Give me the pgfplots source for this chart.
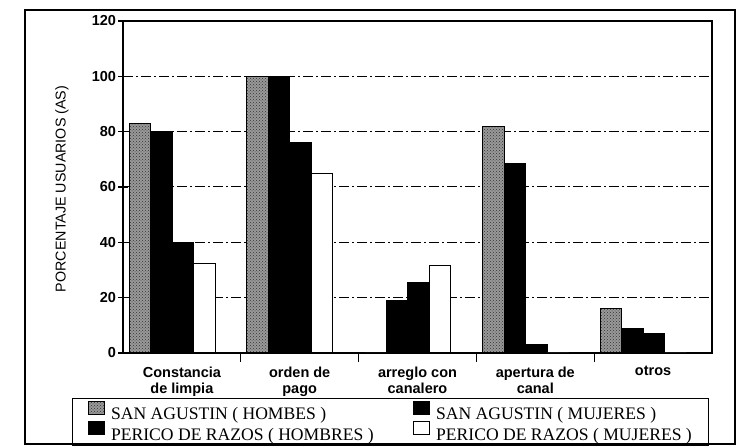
\documentclass[border=0pt]{standalone}
\usepackage{pgfplots}
\pgfplotsset{compat=1.18}
\usetikzlibrary{patterns}
\usepackage{fontspec}
\setmainfont{Liberation Sans}
\newfontfamily\seriffont{Liberation Serif}

\begin{document}
\begin{tikzpicture}
\begin{axis}[
  at={(0pt,0pt)}, anchor=south west,
  scale only axis, width=589pt, height=332pt,
  xmin=-0.5, xmax=4.5, ymin=0, ymax=120,
  axis line style={line width=1.6pt, black},
  tickpos=left, tick align=center,
  xtick={0,1,2,3,4},
  xticklabels={{Constancia\\de limpia},{orden de\\pago},{arreglo con\\canalero},{apertura de\\canal},{otros}},
  x tick label style={align=center, font=\fontsize{14.5}{16}\selectfont\bfseries, yshift=-1pt},
  major x tick style={draw=none},
  minor xtick={0.5,1.5,2.5,3.5},
  minor tick length=9pt,
  minor x tick style={line width=1.2pt, black},
  ytick={0,20,...,120},
  major tick length=9pt,
  major y tick style={line width=1.2pt, black},
  /pgf/number format/assume math mode=true,
  y tick label style={font=\fontsize{14.5}{14}\selectfont\bfseries, xshift=1pt},
  ymajorgrids,
  major grid style={line width=1pt, black, dash pattern=on 10pt off 3pt on 2pt off 3pt},
  ylabel={PORCENTAJE USUARIOS (AS)},
  every axis y label/.style={at={(axis description cs:-0.1036,0.494)}, rotate=90, anchor=center, font=\fontsize{14.3}{14}\selectfont},
  ybar, bar width=21.5pt,
  legend columns=2,
  legend cell align=left,
  legend image code/.code={\draw[#1, line width=1pt] (0pt,0pt) rectangle (16pt,13pt);},
  legend style={at={(axis description cs:-0.0866,-0.1355)}, anchor=north west,
    draw=black, line width=1.2pt, font=\seriffont\fontsize{17.6}{19}\selectfont,
    inner xsep=15pt, inner ysep=2pt, row sep=-1.5pt,
    /tikz/every odd column/.append style={column sep=4.5pt},
    /tikz/every even column/.append style={column sep=37pt}},
]
\addplot[bar shift=-42pt, draw=black, line width=1pt, fill=black!40, postaction={pattern=crosshatch dots, pattern color=black!80}]
  coordinates {(0,83) (1,100) (2,0) (3,82) (4,16)};
\addlegendentry{SAN AGUSTIN ( HOMBES )}
\addplot[bar shift=-20.5pt, draw=black, line width=1pt, fill=black]
  coordinates {(0,80) (1,100) (2,19) (3,68.5) (4,9)};
\addlegendentry{SAN AGUSTIN ( MUJERES )}
\addplot[bar shift=1pt, draw=black, line width=1pt, fill=black]
  coordinates {(0,40) (1,76) (2,25.5) (3,3.2) (4,7)};
\addlegendentry{PERICO DE RAZOS ( HOMBRES )}
\addplot[bar shift=22.5pt, draw=black, line width=1pt, fill=white]
  coordinates {(0,32.5) (1,65) (2,31.7) (3,0) (4,0)};
\addlegendentry{PERICO DE RAZOS ( MUJERES )}
\end{axis}
\draw[line width=1.3pt] (-98pt,-91pt) rectangle (612pt,343pt);
\pgfresetboundingbox
\useasboundingbox (-123pt,-93pt) rectangle (613pt,353pt);
\end{tikzpicture}
\end{document}
